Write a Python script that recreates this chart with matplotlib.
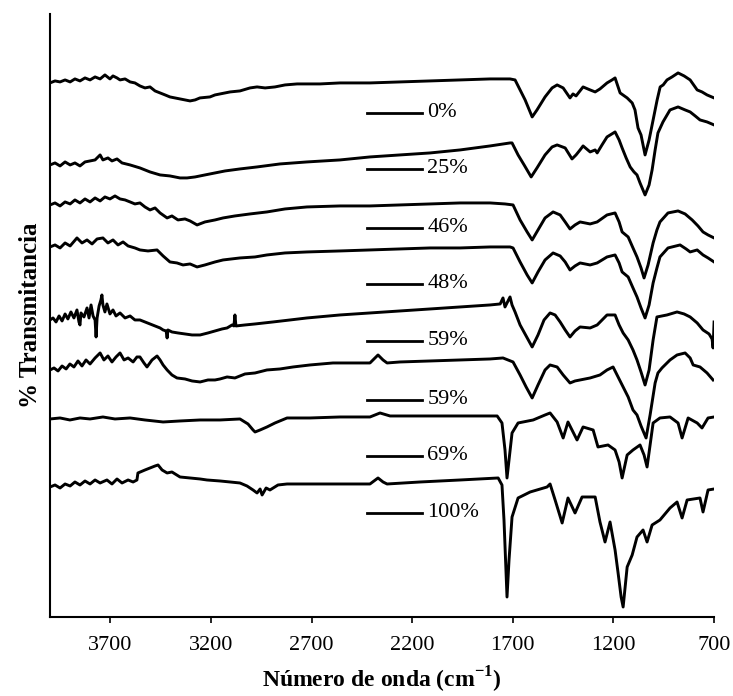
import matplotlib
matplotlib.use("Agg")
import matplotlib.pyplot as plt

plt.rcParams['font.family'] = ['Liberation Serif', 'DejaVu Serif']

# ---- data: wavenumber (cm-1) and transmittance (arbitrary, stacked) ----
labels = ["0%", "25%", "46%", "48%", "59%", "59%", "69%", "100%"]

wn_0 = [4000, 3975, 3950, 3925, 3900, 3876, 3851, 3826, 3801, 3776, 3751, 3727, 3702, 3687, 3667, 3652,
        3627, 3602, 3578, 3553, 3528, 3503, 3478, 3453, 3428, 3404, 3379, 3354, 3329, 3304, 3279, 3255,
        3205, 3180, 3155, 3105, 3056, 3006, 2971, 2931, 2882, 2832, 2772, 2723, 2658, 2559, 2410, 2261,
        2111, 1962, 1813, 1714, 1689, 1664, 1639, 1604, 1580, 1540, 1505, 1480, 1450, 1416, 1401, 1386,
        1351, 1316, 1291, 1267, 1232, 1207, 1192, 1167, 1132, 1107, 1093, 1078, 1063, 1043, 1023, 1003,
        983, 968, 953, 934, 909, 879, 849, 819, 784, 760, 735, 700]
t_0 = [534, 536, 535, 537, 535, 538, 536, 539, 537, 540, 538, 542, 538, 541, 539, 537,
       538, 535, 534, 531, 529, 530, 526, 524, 522, 520, 519, 518, 517, 516, 517, 519,
       520, 522, 523, 525, 526, 529, 530, 529, 530, 532, 533, 533, 533, 534, 534, 535,
       536, 537, 538, 538, 537, 527, 517, 500, 507, 520, 529, 532, 529, 519, 523, 521,
       530, 527, 525, 528, 534, 537, 539, 524, 519, 514, 507, 489, 482, 462, 477, 497,
       517, 530, 532, 537, 540, 544, 541, 537, 527, 525, 522, 519]

wn_25 = [4000, 3975, 3950, 3925, 3900, 3876, 3851, 3826, 3801, 3776, 3751, 3737, 3712, 3692, 3667, 3642,
         3602, 3553, 3503, 3453, 3404, 3354, 3319, 3279, 3230, 3180, 3130, 3056, 2971, 2857, 2723, 2559,
         2410, 2261, 2111, 1962, 1813, 1714, 1704, 1674, 1644, 1609, 1580, 1540, 1505, 1480, 1440, 1406,
         1386, 1366, 1351, 1316, 1291, 1281, 1257, 1232, 1192, 1172, 1157, 1137, 1117, 1098, 1083, 1068,
         1043, 1023, 1008, 993, 979, 954, 919, 879, 844, 819, 794, 770, 735, 700]
t_25 = [452, 454, 451, 455, 452, 454, 451, 455, 456, 457, 462, 457, 459, 456, 458, 454,
        452, 449, 445, 442, 441, 439, 439, 440, 442, 444, 446, 448, 450, 453, 455, 457,
        460, 462, 464, 467, 471, 474, 474, 462, 452, 440, 449, 462, 470, 472, 469, 458,
        462, 467, 471, 465, 467, 464, 472, 480, 485, 477, 469, 459, 450, 445, 442, 434,
        422, 432, 447, 467, 484, 495, 507, 510, 507, 505, 501, 497, 495, 492]

wn_46 = [4000, 3975, 3950, 3925, 3900, 3876, 3851, 3826, 3801, 3776, 3751, 3727, 3702, 3677, 3652, 3627,
         3602, 3578, 3553, 3528, 3503, 3478, 3453, 3418, 3394, 3364, 3329, 3304, 3269, 3230, 3180, 3140,
         3081, 3006, 2922, 2832, 2723, 2559, 2410, 2261, 2111, 1962, 1813, 1739, 1699, 1664, 1629, 1604,
         1575, 1540, 1500, 1465, 1440, 1416, 1391, 1366, 1316, 1281, 1232, 1192, 1172, 1157, 1127, 1103,
         1083, 1063, 1048, 1028, 1003, 984, 969, 929, 879, 844, 809, 780, 755, 730, 700]
t_46 = [412, 414, 411, 415, 413, 417, 414, 418, 415, 419, 416, 420, 418, 421, 418, 417,
        415, 413, 414, 410, 407, 409, 404, 399, 401, 397, 398, 396, 392, 395, 397, 399,
        401, 403, 405, 408, 410, 411, 411, 412, 413, 414, 414, 413, 412, 397, 385, 377,
        387, 399, 405, 402, 395, 388, 392, 395, 393, 395, 402, 404, 395, 385, 380, 369,
        360, 349, 339, 352, 374, 387, 395, 404, 406, 403, 397, 391, 385, 382, 379]

wn_48 = [4000, 3975, 3950, 3925, 3900, 3866, 3841, 3816, 3791, 3766, 3737, 3712, 3687, 3662, 3637, 3612,
         3578, 3553, 3513, 3468, 3438, 3404, 3369, 3339, 3304, 3269, 3230, 3180, 3140, 3056, 2981, 2922,
         2832, 2723, 2559, 2410, 2261, 2111, 1962, 1813, 1714, 1699, 1664, 1629, 1604, 1575, 1540, 1500,
         1465, 1440, 1416, 1391, 1366, 1316, 1281, 1232, 1192, 1172, 1157, 1127, 1103, 1083, 1063, 1043,
         1023, 1003, 984, 969, 929, 869, 839, 819, 784, 755, 730, 700]
t_48 = [370, 372, 369, 374, 371, 379, 374, 377, 373, 378, 379, 374, 377, 372, 375, 371,
        369, 367, 366, 367, 361, 355, 354, 352, 353, 350, 352, 355, 357, 359, 360, 362,
        364, 365, 366, 367, 368, 369, 369, 370, 370, 369, 355, 342, 334, 345, 357, 364,
        361, 355, 347, 351, 354, 352, 354, 360, 362, 354, 345, 340, 329, 320, 309, 299,
        312, 334, 349, 360, 369, 372, 368, 365, 367, 362, 359, 355]

wn_59a = [4000, 3985, 3970, 3955, 3940, 3925, 3911, 3896, 3881, 3866, 3856, 3851, 3846, 3831, 3816, 3806,
          3796, 3786, 3776, 3771, 3766, 3756, 3747, 3742, 3737, 3727, 3717, 3702, 3687, 3672, 3652, 3627,
          3602, 3578, 3553, 3528, 3503, 3478, 3453, 3438, 3423, 3418, 3414, 3394, 3364, 3329, 3294, 3254,
          3215, 3180, 3145, 3120, 3095, 3086, 3081, 3076, 3031, 2981, 2892, 2807, 2723, 2559, 2410, 2261,
          2111, 1962, 1813, 1763, 1749, 1739, 1724, 1714, 1704, 1689, 1664, 1634, 1604, 1575, 1545, 1515,
          1490, 1465, 1440, 1416, 1391, 1366, 1316, 1281, 1232, 1192, 1172, 1152, 1127, 1103, 1083, 1063,
          1043, 1023, 1003, 984, 934, 884, 849, 819, 784, 755, 725, 710, 705, 700]
t_59a = [297, 299, 295, 301, 296, 303, 298, 305, 299, 307, 295, 292, 304, 300, 309, 299,
         312, 301, 297, 280, 299, 311, 317, 322, 312, 305, 313, 303, 307, 301, 304, 299,
         301, 297, 297, 295, 293, 291, 289, 287, 286, 279, 287, 285, 284, 283, 282, 282,
         284, 286, 288, 289, 292, 291, 302, 291, 292, 293, 295, 297, 299, 302, 304, 306,
         308, 310, 312, 313, 319, 310, 316, 320, 312, 305, 292, 281, 270, 282, 297, 304,
         302, 295, 287, 280, 286, 290, 289, 292, 302, 302, 292, 284, 277, 267, 257, 245,
         232, 247, 277, 300, 302, 305, 303, 300, 294, 287, 283, 278, 269, 295]

wn_59b = [4000, 3980, 3960, 3940, 3920, 3901, 3881, 3861, 3841, 3821, 3801, 3776, 3751, 3732, 3712, 3692,
          3672, 3652, 3632, 3612, 3587, 3568, 3553, 3533, 3518, 3493, 3468, 3453, 3438, 3418, 3394, 3369,
          3329, 3294, 3254, 3215, 3180, 3155, 3120, 3081, 3031, 2981, 2922, 2857, 2792, 2708, 2594, 2410,
          2370, 2345, 2325, 2261, 2111, 1962, 1813, 1749, 1724, 1699, 1664, 1634, 1604, 1575, 1540, 1515,
          1480, 1450, 1416, 1391, 1366, 1316, 1267, 1232, 1202, 1177, 1152, 1127, 1103, 1083, 1063, 1038,
          1018, 993, 979, 959, 919, 884, 844, 819, 804, 770, 735, 705]
t_59b = [247, 249, 246, 251, 248, 253, 250, 256, 251, 257, 253, 259, 264, 257, 261, 255,
         260, 264, 257, 259, 255, 260, 260, 254, 250, 257, 261, 257, 252, 247, 242, 239,
         238, 236, 235, 237, 237, 238, 240, 239, 243, 244, 247, 248, 250, 252, 254, 254,
         262, 257, 254, 255, 256, 257, 258, 259, 257, 255, 242, 230, 219, 232, 247, 252,
         250, 242, 234, 236, 237, 239, 242, 247, 250, 240, 230, 220, 207, 202, 191, 179,
         202, 234, 244, 249, 257, 262, 264, 259, 252, 250, 244, 237]

wn_69 = [4000, 3950, 3901, 3851, 3801, 3737, 3677, 3602, 3528, 3438, 3354, 3254, 3155, 3056, 3016, 2991,
         2981, 2956, 2922, 2882, 2822, 2708, 2559, 2410, 2360, 2310, 2161, 1962, 1813, 1778, 1754, 1739,
         1729, 1719, 1704, 1674, 1599, 1540, 1515, 1480, 1450, 1426, 1406, 1381, 1351, 1301, 1277, 1227,
         1192, 1172, 1157, 1132, 1103, 1068, 1048, 1033, 1018, 1003, 969, 919, 879, 859, 829, 784,
         760, 730, 700]
t_69 = [198, 199, 197, 199, 198, 200, 198, 199, 197, 195, 196, 197, 197, 198, 193, 187,
        185, 187, 190, 194, 199, 199, 200, 200, 204, 201, 201, 201, 201, 201, 194, 167,
        139, 157, 184, 194, 197, 202, 204, 195, 179, 195, 187, 177, 190, 187, 170, 172,
        167, 155, 139, 162, 167, 172, 162, 150, 172, 194, 199, 200, 194, 179, 199, 194,
        189, 199, 200]

wn_100 = [4000, 3975, 3950, 3925, 3900, 3876, 3851, 3826, 3801, 3776, 3751, 3717, 3692, 3667, 3642, 3612,
          3587, 3568, 3563, 3528, 3503, 3478, 3463, 3443, 3418, 3394, 3354, 3304, 3254, 3220, 3155, 3105,
          3056, 3021, 2991, 2971, 2956, 2946, 2926, 2907, 2867, 2822, 2708, 2559, 2410, 2370, 2345, 2325,
          2161, 1962, 1773, 1754, 1744, 1729, 1719, 1704, 1674, 1614, 1530, 1515, 1490, 1455, 1426, 1391,
          1356, 1291, 1267, 1242, 1217, 1192, 1177, 1162, 1152, 1142, 1132, 1107, 1083, 1053, 1033, 1008,
          969, 919, 884, 859, 834, 770, 755, 730, 700]
t_100 = [130, 132, 129, 133, 131, 135, 132, 136, 133, 137, 134, 137, 133, 138, 134, 137,
         135, 137, 144, 147, 149, 151, 152, 147, 144, 145, 140, 139, 138, 137, 136, 135,
         134, 131, 127, 124, 128, 122, 129, 127, 132, 133, 133, 133, 133, 139, 135, 133,
         135, 137, 139, 132, 97, 20, 57, 100, 119, 125, 130, 133, 117, 94, 119, 104,
         120, 120, 95, 75, 95, 67, 44, 20, 10, 30, 50, 62, 80, 87, 75, 92,
         97, 109, 115, 99, 117, 119, 105, 127, 128]

series_wn = [wn_0, wn_25, wn_46, wn_48, wn_59a, wn_59b, wn_69, wn_100]
series_t = [t_0, t_25, t_46, t_48, t_59a, t_59b, t_69, t_100]

xticks = [3700, 3200, 2700, 2200, 1700, 1200, 700]

# ---- layout (not data) ----
label_y = [504, 448, 389, 333, 276, 217, 161, 104]
seg_x = (2424, 2151)
text_x = 2125

fig = plt.figure(figsize=(7.33, 6.96), dpi=100)
ax = fig.add_axes([0.0682, 0.1135, 0.906, 0.8665])

for wn, t in zip(series_wn, series_t):
    ax.plot(wn, t, color='black', lw=2.1, solid_joinstyle='round')

for lab, ly in zip(labels, label_y):
    ax.plot(seg_x, [ly, ly], color='black', lw=2.0)
    ax.text(text_x, ly, lab, fontsize=16, va='center', ha='left')

ax.set_xlim(4000, 700)
ax.set_ylim(0, 603)
ax.set_xticks(xticks)
ax.set_xticklabels([str(v) for v in xticks], fontsize=16)
ax.set_yticks([])
ax.tick_params(axis='x', direction='out', length=4, width=1.2, pad=10)
for s in ['top', 'right']:
    ax.spines[s].set_visible(False)
for s in ['left', 'bottom']:
    ax.spines[s].set_linewidth(1.5)

ax.set_xlabel("Número de onda (cm$^{\\mathregular{-1}}$)", fontsize=17, fontweight='bold', labelpad=7)
ax.set_ylabel("% Transmitancia", fontsize=18, fontweight='bold', labelpad=6)

fig.savefig("out.png", dpi=100)
